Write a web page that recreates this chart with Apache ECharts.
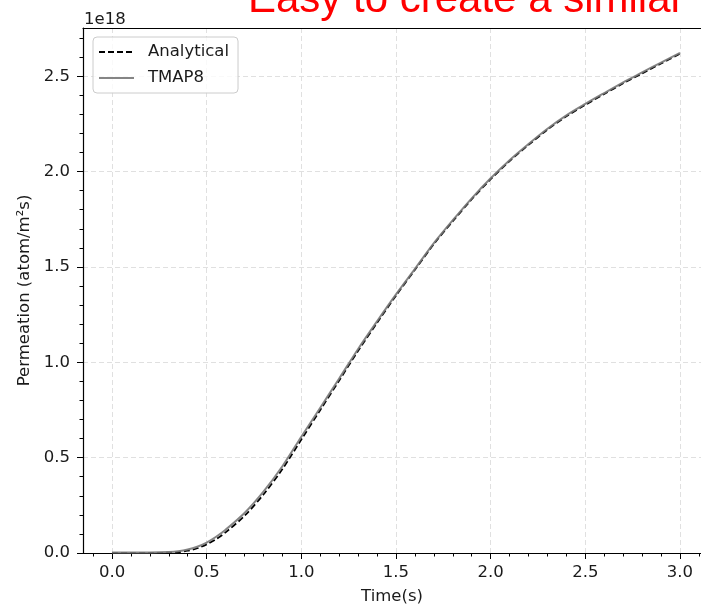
<!DOCTYPE html>
<html>
<head>
<meta charset="utf-8">
<script src="https://cdn.jsdelivr.net/npm/echarts@6/dist/echarts.min.js"></script>
<style>
html,body{margin:0;padding:0;background:#fff;}
#chart{width:701px;height:606px;}
</style>
</head>
<body>
<div id="chart"></div>
<script>
// Permeation values in units of 1e18 atom/(m^2 s)
const timeValues = [0.0, 0.1, 0.2, 0.3, 0.35, 0.4, 0.45, 0.5, 0.55, 0.6, 0.7, 0.8, 0.9, 1.0, 1.1, 1.2, 1.3, 1.4, 1.5, 1.6, 1.7, 1.8, 1.9, 2.0, 2.1, 2.2, 2.3, 2.4, 2.5, 2.6, 2.7, 2.8, 2.9, 3.0];
const analyticalValues = [0.0, 0.0, 0.0, 0.002, 0.005, 0.012, 0.025, 0.045, 0.073, 0.108, 0.195, 0.307, 0.44, 0.595, 0.75, 0.905, 1.06, 1.207, 1.35, 1.485, 1.62, 1.74, 1.855, 1.96, 2.055, 2.14, 2.22, 2.29, 2.35, 2.407, 2.463, 2.515, 2.567, 2.618];
const tmap8Values = [0.003, 0.003, 0.003, 0.005, 0.009, 0.018, 0.033, 0.055, 0.085, 0.122, 0.21, 0.322, 0.455, 0.61, 0.762, 0.915, 1.07, 1.215, 1.356, 1.49, 1.625, 1.745, 1.86, 1.965, 2.06, 2.145, 2.225, 2.295, 2.355, 2.412, 2.468, 2.52, 2.572, 2.623];
const xTickValues = [0.0, 0.5, 1.0, 1.5, 2.0, 2.5, 3.0];
const yTickValues = [0.0, 0.5, 1.0, 1.5, 2.0, 2.5];
const xMinorTickValues = [-0.1, 0.1, 0.2, 0.3, 0.4, 0.6, 0.7, 0.8, 0.9, 1.1, 1.2, 1.3, 1.4, 1.6, 1.7, 1.8, 1.9, 2.1, 2.2, 2.3, 2.4, 2.6, 2.7, 2.8, 2.9, 3.1];
const yMinorTickValues = [0.1, 0.2, 0.3, 0.4, 0.6, 0.7, 0.8, 0.9, 1.1, 1.2, 1.3, 1.4, 1.6, 1.7, 1.8, 1.9, 2.1, 2.2, 2.3, 2.4, 2.6, 2.7];
const seriesNames = ['Analytical', 'TMAP8'];
const yExponentLabel = '1e18';
const titleText = 'Easy to create a similar';

const FONT = 'DejaVu Sans';
const FS = 16.5;
const TXT = '#1a1a1a';
const pair = (xs, ys) => xs.map((x, i) => [x, ys[i]]);

const chart = echarts.init(document.getElementById('chart'), null, {renderer: 'canvas'});
const gridLine = {show: true, lineStyle: {color: '#e0e0e0', type: [5, 3], width: 1}};

chart.setOption({
  animation: false,
  backgroundColor: '#fff',
  grid: {left: 83, top: 28, right: 0, bottom: 53, containLabel: false, outerBoundsMode: 'none'},
  xAxis: [
    {
      type: 'value', position: 'bottom', min: -0.1532, max: 3.111,
      name: 'Time(s)', nameLocation: 'middle', nameGap: 35,
      nameTextStyle: {fontFamily: FONT, fontSize: FS, color: TXT},
      axisLine: {show: true, onZero: false, lineStyle: {color: '#000', width: 1.2}},
      axisTick: {show: true, inside: false, length: 6, lineStyle: {color: '#000', width: 1}, customValues: xTickValues},
      axisLabel: {show: true, margin: 11, fontFamily: FONT, fontSize: FS, color: TXT,
        customValues: xTickValues, formatter: v => v.toFixed(1)},
      splitLine: gridLine
    },
    {
      type: 'value', position: 'bottom', min: -0.1532, max: 3.111,
      axisLine: {show: false, onZero: false},
      axisTick: {show: true, length: 3.5, lineStyle: {color: '#000', width: 1}, customValues: xMinorTickValues},
      axisLabel: {show: false},
      splitLine: {show: false}
    },
    {
      type: 'value', position: 'top', min: -0.1532, max: 3.111,
      axisLine: {show: true, onZero: false, lineStyle: {color: '#000', width: 1.2}},
      axisTick: {show: false}, axisLabel: {show: false}, splitLine: {show: false}
    }
  ],
  yAxis: [
    {
      type: 'value', position: 'left', min: 0, max: 2.753,
      name: 'Permeation (atom/m²s)', nameLocation: 'middle', nameGap: 50,
      nameTextStyle: {fontFamily: FONT, fontSize: FS, color: TXT},
      axisLine: {show: true, onZero: false, lineStyle: {color: '#000', width: 1.2}},
      axisTick: {show: true, length: 6, lineStyle: {color: '#000', width: 1}, customValues: yTickValues},
      axisLabel: {show: true, margin: 13, fontFamily: FONT, fontSize: FS, color: TXT,
        customValues: yTickValues, formatter: v => v.toFixed(1)},
      splitLine: gridLine
    },
    {
      type: 'value', position: 'left', min: 0, max: 2.753,
      axisLine: {show: false, onZero: false},
      axisTick: {show: true, length: 3.5, lineStyle: {color: '#000', width: 1}, customValues: yMinorTickValues},
      axisLabel: {show: false},
      splitLine: {show: false}
    }
  ],
  legend: {
    left: 93, top: 37, orient: 'vertical',
    itemWidth: 35, itemHeight: 18, itemGap: 8,
    padding: [6, 9, 6, 5],
    backgroundColor: 'rgba(255,255,255,0.8)',
    borderColor: '#cccccc', borderWidth: 1, borderRadius: 4,
    itemStyle: {opacity: 0},
    textStyle: {fontFamily: FONT, fontSize: FS, color: TXT, lineHeight: 18, padding: [0, 0, 0, 9]},
    data: seriesNames
  },
  graphic: [
    {type: 'text', left: 84, top: 11, style: {text: yExponentLabel, font: FS + 'px "DejaVu Sans"', fill: TXT}},
    {type: 'text', x: 248, y: -21, style: {text: titleText, font: '42px "Liberation Sans"', fill: '#ff0000', verticalAlign: 'top'}}
  ],
  series: [
    {
      name: seriesNames[0], type: 'line', xAxisIndex: 0, yAxisIndex: 0,
      data: pair(timeValues, analyticalValues),
      showSymbol: false, symbol: 'none', smooth: 0.3,
      lineStyle: {color: '#000', width: 1.8, type: [6, 3]},
      itemStyle: {color: '#000', opacity: 0}, z: 2
    },
    {
      name: seriesNames[1], type: 'line', xAxisIndex: 0, yAxisIndex: 0,
      data: pair(timeValues, tmap8Values),
      showSymbol: false, symbol: 'none', smooth: 0.3,
      lineStyle: {color: 'rgba(120,120,120,0.9)', width: 2},
      itemStyle: {color: 'rgba(120,120,120,0.9)', opacity: 0}, z: 3
    }
  ]
});
</script>
</body>
</html>
